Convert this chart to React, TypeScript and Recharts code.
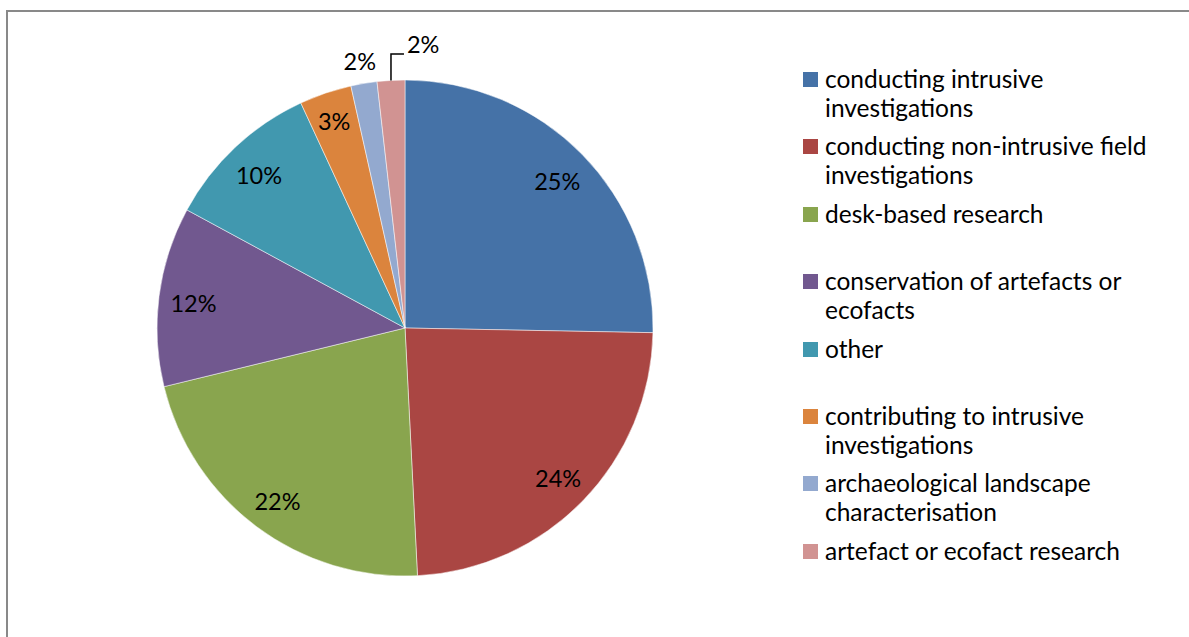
import React from 'react';
import { PieChart, Pie, Cell, Legend } from 'recharts';

const categories = [
  'conducting intrusive investigations',
  'conducting non-intrusive field investigations',
  'desk-based research',
  'conservation of artefacts or ecofacts',
  'other',
  'contributing to intrusive investigations',
  'archaeological landscape characterisation',
  'artefact or ecofact research',
];
const values = [25.3, 23.9, 22.0, 11.7, 10.2, 3.4, 1.7, 1.8];
const colors = ['#4572A7', '#AA4643', '#89A54E', '#71588F', '#4198AF', '#DB843D', '#93A9CF', '#D19392'];

const data = categories.map((name, i) => ({ name, value: values[i] }));

const FONT = 'Lato, "Open Sans", sans-serif';
const RAD = Math.PI / 180;

const renderLabel = (props: any) => {
  const { cx, cy, midAngle, outerRadius, percent, index } = props;
  const text = `${Math.round(percent * 100)}%`;
  const cos = Math.cos(-midAngle * RAD);
  const sin = Math.sin(-midAngle * RAD);
  if (index === 7) {
    const x0 = cx + outerRadius * cos;
    const y0 = cy + outerRadius * sin;
    const y1 = cy - outerRadius - 26;
    return (
      <g>
        <polyline
          points={`${x0},${y0} ${x0},${y1} ${x0 + 13},${y1}`}
          stroke="#000"
          strokeWidth={1.5}
          fill="none"
        />
        <text x={x0 + 16} y={y1 - 1} fill="#000" fontSize={23.5} fontFamily={FONT} textAnchor="start">
          {text}
        </text>
      </g>
    );
  }
  const r = index === 6 ? outerRadius + 25 : index === 5 ? outerRadius * 0.89 : outerRadius * 0.86;
  const x = cx + r * cos;
  const y = cy + r * sin + 2;
  return (
    <text x={x} y={y} fill="#000" fontSize={23.5} fontFamily={FONT} textAnchor="middle" dominantBaseline="central">
      {text}
    </text>
  );
};

const renderLegend = () => (
  <div style={{ fontFamily: FONT, fontSize: 24.5, lineHeight: '29px', color: '#000' }}>
    {categories.map((name, i) => (
      <div key={name} style={{ height: 67.4, display: 'flex', alignItems: 'flex-start' }}>
        <span
          style={{
            display: 'inline-block',
            width: 15,
            height: 15,
            background: colors[i],
            marginTop: 8,
            marginRight: 7,
            flex: '0 0 auto',
          }}
        />
        <span style={{ width: 360 }}>{name}</span>
      </div>
    ))}
  </div>
);

export default function App() {
  return (
    <div style={{ position: 'absolute', left: 0, top: 0, width: 1189, height: 637, background: '#fff', overflow: 'hidden' }}>
      <div
        style={{
          position: 'absolute',
          left: 6,
          top: 10,
          width: 1200,
          height: 640,
          borderLeft: '2px solid #898989',
          borderTop: '2px solid #898989',
        }}
      />
      <div style={{ position: 'absolute', left: 0, top: 0 }}>
        <PieChart width={1189} height={637} margin={{ top: 0, right: 0, bottom: 0, left: 0 }}>
          <Pie
            data={data}
            dataKey="value"
            nameKey="name"
            cx={405}
            cy={328}
            outerRadius={248}
            innerRadius={0}
            startAngle={90}
            endAngle={-270}
            stroke="#ffffff"
            strokeWidth={0.5}
            label={renderLabel}
            labelLine={false}
            isAnimationActive={false}
          >
            {data.map((d, i) => (
              <Cell key={d.name} fill={colors[i]} />
            ))}
          </Pie>
          <Legend
            layout="vertical"
            verticalAlign="top"
            align="right"
            content={renderLegend}
            wrapperStyle={{ left: 803, right: 'auto', top: 64, width: 380 }}
          />
        </PieChart>
      </div>
    </div>
  );
}
